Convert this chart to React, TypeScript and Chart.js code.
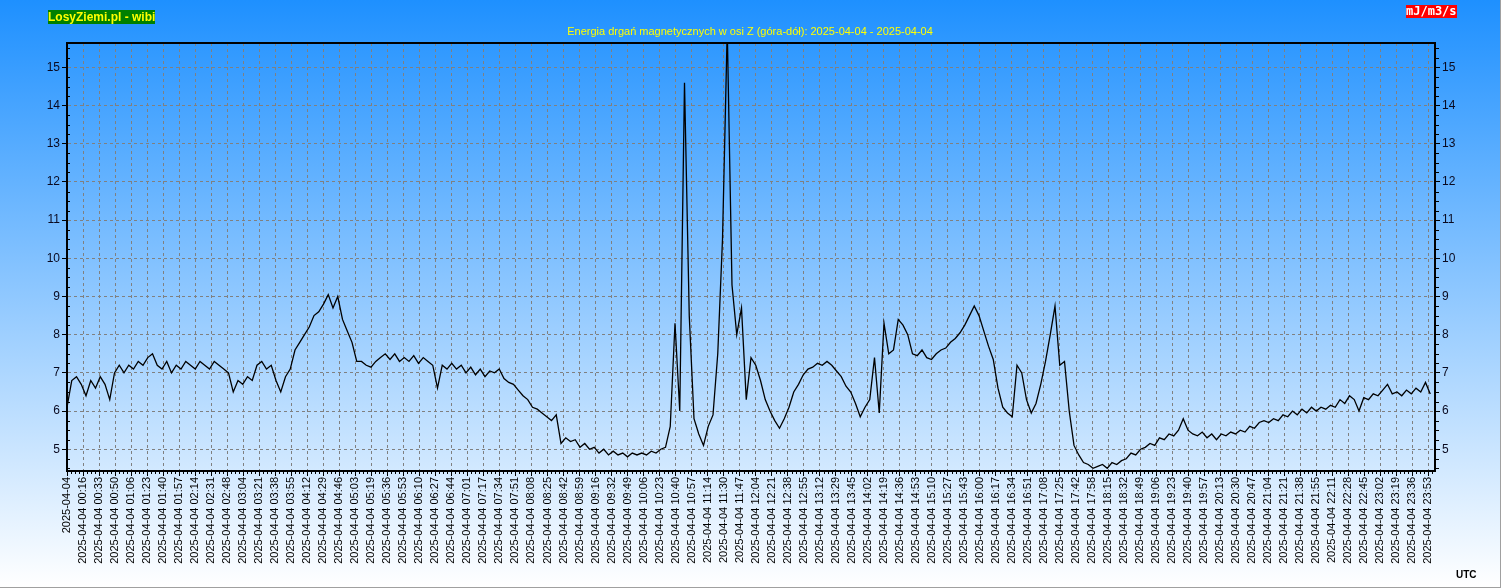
import React, { useEffect, useRef } from 'react';
import { Chart, registerables } from 'chart.js';

Chart.register(...registerables);

const TITLE = 'Energia drgań magnetycznych w osi Z (góra-dół): 2025-04-04 - 2025-04-04';
const BRAND = 'LosyZiemi.pl - wibi';
const UNIT = 'mJ/m3/s';
const TZ = 'UTC';

const X_LABELS = [
  '2025-04-04', '2025-04-04 00:16', '2025-04-04 00:33', '2025-04-04 00:50',
  '2025-04-04 01:06', '2025-04-04 01:23', '2025-04-04 01:40', '2025-04-04 01:57',
  '2025-04-04 02:14', '2025-04-04 02:31', '2025-04-04 02:48',
  '2025-04-04 03:04', '2025-04-04 03:21', '2025-04-04 03:38', '2025-04-04 03:55',
  '2025-04-04 04:12', '2025-04-04 04:29', '2025-04-04 04:46',
  '2025-04-04 05:03', '2025-04-04 05:19', '2025-04-04 05:36', '2025-04-04 05:53',
  '2025-04-04 06:10', '2025-04-04 06:27', '2025-04-04 06:44',
  '2025-04-04 07:01', '2025-04-04 07:17', '2025-04-04 07:34', '2025-04-04 07:51',
  '2025-04-04 08:08', '2025-04-04 08:25', '2025-04-04 08:42', '2025-04-04 08:59',
  '2025-04-04 09:16', '2025-04-04 09:32', '2025-04-04 09:49',
  '2025-04-04 10:06', '2025-04-04 10:23', '2025-04-04 10:40', '2025-04-04 10:57',
  '2025-04-04 11:14', '2025-04-04 11:30', '2025-04-04 11:47',
  '2025-04-04 12:04', '2025-04-04 12:21', '2025-04-04 12:38', '2025-04-04 12:55',
  '2025-04-04 13:12', '2025-04-04 13:29', '2025-04-04 13:45',
  '2025-04-04 14:02', '2025-04-04 14:19', '2025-04-04 14:36', '2025-04-04 14:53',
  '2025-04-04 15:10', '2025-04-04 15:27', '2025-04-04 15:43',
  '2025-04-04 16:00', '2025-04-04 16:17', '2025-04-04 16:34', '2025-04-04 16:51',
  '2025-04-04 17:08', '2025-04-04 17:25', '2025-04-04 17:42', '2025-04-04 17:58',
  '2025-04-04 18:15', '2025-04-04 18:32', '2025-04-04 18:49',
  '2025-04-04 19:06', '2025-04-04 19:23', '2025-04-04 19:40', '2025-04-04 19:57',
  '2025-04-04 20:13', '2025-04-04 20:30', '2025-04-04 20:47',
  '2025-04-04 21:04', '2025-04-04 21:21', '2025-04-04 21:38', '2025-04-04 21:55',
  '2025-04-04 22:11', '2025-04-04 22:28', '2025-04-04 22:45',
  '2025-04-04 23:02', '2025-04-04 23:19', '2025-04-04 23:36', '2025-04-04 23:53',
];

const Y_TICKS = [5, 6, 7, 8, 9, 10, 11, 12, 13, 14, 15];
const Y_MIN = 4.43;
const Y_MAX = 15.64;
const DAY_MINUTES = 1440;
const SAMPLE_MINUTES = 5;

// one row per hour, a value every 5 minutes
const VALUES = [
  6.1, 6.8, 6.9, 6.7, 6.4, 6.8, 6.6, 6.9, 6.7, 6.3, 7.0, 7.2,
  7.0, 7.2, 7.1, 7.3, 7.2, 7.4, 7.5, 7.2, 7.1, 7.3, 7.0, 7.2,
  7.1, 7.3, 7.2, 7.1, 7.3, 7.2, 7.1, 7.3, 7.2, 7.1, 7.0, 6.5,
  6.8, 6.7, 6.9, 6.8, 7.2, 7.3, 7.1, 7.2, 6.8, 6.5, 6.9, 7.1,
  7.6, 7.8, 8.0, 8.2, 8.5, 8.6, 8.8, 9.05, 8.7, 9.0, 8.4, 8.1,
  7.8, 7.3, 7.3, 7.2, 7.15, 7.3, 7.4, 7.5, 7.35, 7.5, 7.3, 7.4,
  7.3, 7.45, 7.25, 7.4, 7.3, 7.2, 6.6, 7.2, 7.1, 7.25, 7.1, 7.2,
  7.0, 7.15, 6.95, 7.1, 6.9, 7.05, 7.0, 7.1, 6.85, 6.75, 6.7, 6.55,
  6.4, 6.3, 6.1, 6.05, 5.95, 5.85, 5.75, 5.9, 5.15, 5.3, 5.2, 5.25,
  5.05, 5.15, 5.0, 5.05, 4.9, 5.0, 4.85, 4.95, 4.85, 4.9, 4.8, 4.9,
  4.85, 4.9, 4.85, 4.95, 4.9, 5.0, 5.05, 5.6, 8.3, 6.0, 14.6, 8.5,
  5.8, 5.4, 5.1, 5.6, 5.9, 7.5, 10.5, 16.0, 9.3, 8.0, 8.7, 6.3,
  7.4, 7.2, 6.8, 6.3, 6.0, 5.75, 5.55, 5.8, 6.1, 6.5, 6.7, 6.95,
  7.1, 7.15, 7.25, 7.2, 7.3, 7.2, 7.05, 6.9, 6.65, 6.5, 6.2, 5.85,
  6.1, 6.3, 7.4, 5.95, 8.3, 7.5, 7.6, 8.4, 8.25, 8.0, 7.5, 7.45,
  7.6, 7.4, 7.35, 7.5, 7.6, 7.65, 7.8, 7.9, 8.05, 8.25, 8.5, 8.75,
  8.5, 8.1, 7.7, 7.35, 6.6, 6.1, 5.95, 5.85, 7.2, 7.0, 6.3, 5.95,
  6.2, 6.7, 7.3, 8.0, 8.75, 7.2, 7.3, 6.0, 5.1, 4.85, 4.65, 4.6,
  4.5, 4.55, 4.6, 4.5, 4.65, 4.6, 4.7, 4.75, 4.9, 4.85, 5.0, 5.05,
  5.15, 5.1, 5.3, 5.25, 5.4, 5.35, 5.5, 5.8, 5.5, 5.4, 5.35, 5.45,
  5.3, 5.4, 5.25, 5.4, 5.35, 5.45, 5.4, 5.5, 5.45, 5.6, 5.55, 5.7,
  5.75, 5.7, 5.8, 5.75, 5.9, 5.85, 6.0, 5.9, 6.05, 5.95, 6.1, 6.0,
  6.1, 6.05, 6.15, 6.1, 6.3, 6.2, 6.4, 6.3, 6.0, 6.35, 6.3, 6.45,
  6.4, 6.55, 6.7, 6.45, 6.5, 6.4, 6.55, 6.45, 6.6, 6.5, 6.75, 6.45,
];

function minutesOf(label: string): number {
  const parts = label.split(' ');
  if (parts.length < 2) return 0;
  const [h, m] = parts[1].split(':').map(Number);
  return h * 60 + m;
}

const LAST_LABEL_MIN = minutesOf(X_LABELS[X_LABELS.length - 1]);
const TICK_STEP = LAST_LABEL_MIN / (X_LABELS.length - 1);

const FONT = "Arial, 'Liberation Sans', sans-serif";
const W = 1500;
const H = 587;

const framePlugin = {
  id: 'frame',
  afterDraw(chart: any) {
    const { ctx, chartArea } = chart;
    const { left, right, top, bottom } = chartArea;
    const ys = chart.scales.y;
    const xs = chart.scales.x;
    ctx.save();
    ctx.strokeStyle = '#000';
    ctx.lineWidth = 2;
    ctx.beginPath();
    ctx.moveTo(left - 1, top);
    ctx.lineTo(right + 1, top);
    ctx.stroke();
    ctx.lineWidth = 1;
    ctx.beginPath();
    for (let k = Math.ceil(Y_MIN * 4); k <= Math.floor(Y_MAX * 4); k++) {
      if (k % 4 === 0) continue;
      const py = Math.round(ys.getPixelForValue(k / 4)) + 0.5;
      ctx.moveTo(left + 1, py);
      ctx.lineTo(left + 3, py);
      ctx.moveTo(right + 1, py);
      ctx.lineTo(right + 4, py);
    }
    for (let k = 1; k < X_LABELS.length * 4; k++) {
      if (k % 4 === 0) continue;
      const v = (k * TICK_STEP) / 4;
      if (v > DAY_MINUTES) break;
      const px = Math.round(xs.getPixelForValue(v)) + 0.5;
      ctx.moveTo(px, bottom + 1);
      ctx.lineTo(px, bottom + 3);
    }
    ctx.stroke();
    ctx.restore();
  },
};

export default function App() {
  const ref = useRef<HTMLCanvasElement | null>(null);

  useEffect(() => {
    document.body.style.margin = '0';
    const canvas = ref.current;
    if (!canvas) return;
    const data = VALUES.map((v, i) => ({ x: i * SAMPLE_MINUTES, y: v }));
    const gridColor = 'rgb(128,128,128)';
    const yTicks = (scale: any) => {
      scale.ticks = Y_TICKS.map((v) => ({ value: v }));
    };
    const chart = new Chart(canvas, {
      type: 'line',
      data: {
        datasets: [
          {
            data,
            borderColor: '#000',
            borderWidth: 1.3,
            pointRadius: 0,
            tension: 0,
            fill: false,
          },
        ],
      },
      plugins: [framePlugin],
      options: {
        animation: false,
        responsive: false,
        devicePixelRatio: 1,
        events: [],
        layout: { padding: { left: 0, right: 0, top: 43, bottom: 0 } },
        plugins: {
          legend: { display: false },
          tooltip: { enabled: false },
          title: { display: false },
        },
        scales: {
          x: {
            type: 'linear',
            min: 0,
            max: DAY_MINUTES,
            afterBuildTicks: (scale: any) => {
              scale.ticks = X_LABELS.map((_, k) => ({ value: k * TICK_STEP }));
            },
            afterFit: (scale: any) => {
              scale.height = H - 471;
            },
            ticks: {
              autoSkip: false,
              maxRotation: 90,
              minRotation: 90,
              padding: 1,
              color: '#000',
              font: { family: FONT, size: 11 },
              callback: (_v: any, i: number) => X_LABELS[i],
            },
            grid: {
              color: gridColor,
              lineWidth: 1,
              tickLength: 5,
              tickColor: '#000',
              drawOnChartArea: true,
            },
            border: { display: true, color: '#000', width: 2, dash: [3, 3] },
          },
          y: {
            type: 'linear',
            position: 'left',
            min: Y_MIN,
            max: Y_MAX,
            afterBuildTicks: yTicks,
            afterFit: (scale: any) => {
              scale.width = 67;
            },
            ticks: {
              padding: 2,
              color: '#0a0a20',
              font: { family: FONT, size: 12 },
            },
            grid: {
              color: gridColor,
              lineWidth: 1,
              tickLength: 5,
              tickColor: '#000',
            },
            border: { display: true, color: '#000', width: 2, dash: [3, 3] },
          },
          y2: {
            type: 'linear',
            position: 'right',
            min: Y_MIN,
            max: Y_MAX,
            afterBuildTicks: yTicks,
            afterFit: (scale: any) => {
              scale.width = W - 1435;
            },
            ticks: {
              padding: 2,
              color: '#0a0a20',
              font: { family: FONT, size: 12 },
            },
            grid: {
              drawOnChartArea: false,
              tickLength: 5,
              tickColor: '#000',
            },
            border: { display: true, color: '#000', width: 2 },
          },
        },
      },
    } as any);
    return () => chart.destroy();
  }, []);

  return (
    <div
      style={{
        position: 'relative',
        width: W,
        height: H,
        borderRight: '1px solid #a0a0a0',
        borderBottom: '1px solid #a0a0a0',
        background: 'linear-gradient(to bottom, #1e90ff 0%, #ffffff 100%)',
        overflow: 'hidden',
      }}
    >
      <canvas ref={ref} width={W} height={H} style={{ position: 'absolute', left: 0, top: 0, width: W, height: H }} />
      <div
        style={{
          position: 'absolute',
          left: 48,
          top: 10,
          background: '#008000',
          color: '#ffff00',
          font: `bold 12px ${FONT}`,
          lineHeight: '14px',
          whiteSpace: 'nowrap',
        }}
      >
        {BRAND}
      </div>
      <div
        style={{
          position: 'absolute',
          left: 0,
          width: W,
          top: 25,
          textAlign: 'center',
          color: '#ffff00',
          font: `11px ${FONT}`,
          lineHeight: '13px',
          whiteSpace: 'nowrap',
        }}
      >
        {TITLE}
      </div>
      <div
        style={{
          position: 'absolute',
          left: 1406,
          top: 5,
          background: '#ff0000',
          color: '#ffffff',
          font: "bold 12px 'DejaVu Sans Mono', monospace",
          lineHeight: '13px',
          whiteSpace: 'nowrap',
        }}
      >
        {UNIT}
      </div>
      <div
        style={{
          position: 'absolute',
          left: 1456,
          top: 570,
          color: '#000',
          font: `bold 10px ${FONT}`,
          lineHeight: '10px',
          whiteSpace: 'nowrap',
        }}
      >
        {TZ}
      </div>
    </div>
  );
}
